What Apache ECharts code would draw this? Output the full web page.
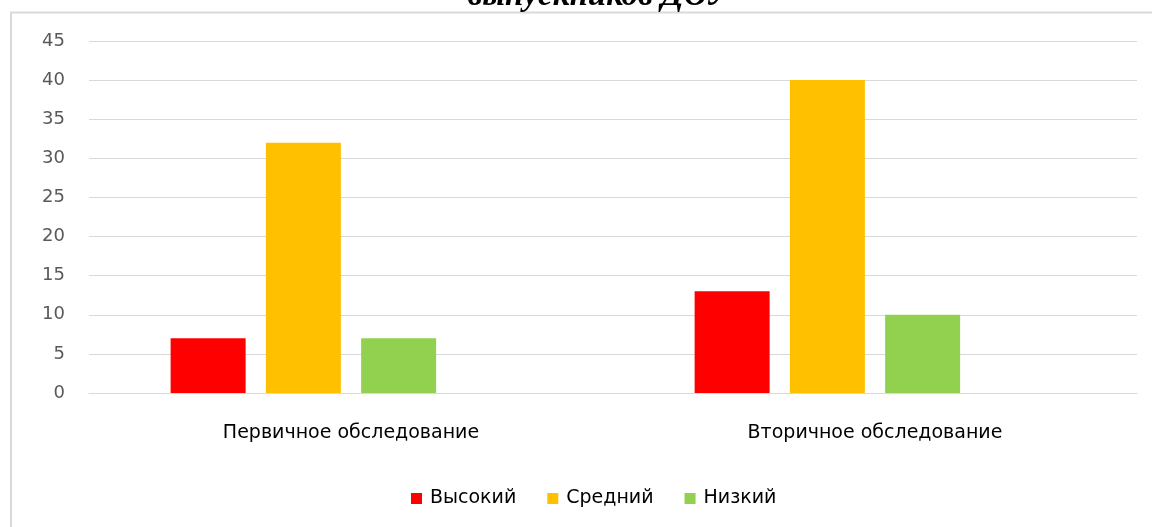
<!DOCTYPE html>
<html>
<head>
<meta charset="utf-8">
<script src="https://cdn.jsdelivr.net/npm/echarts@6/dist/echarts.min.js"></script>
<style>
html,body{margin:0;padding:0;background:#fff;}
#chart{width:1152px;height:527px;}
</style>
</head>
<body>
<div id="chart"></div>
<script>
const titleText = 'выпускников ДОУ';
const categories = ['Первичное обследование', 'Вторичное обследование'];
const seriesNames = ['Высокий', 'Средний', 'Низкий'];
const seriesColors = ['#ff0000', '#ffc000', '#92d050'];
const high = [7, 13];
const medium = [32, 40];
const low = [7, 10];
const yTicks = {min: 0, max: 45, interval: 5};

const values = [high, medium, low];
const series = seriesNames.map((n, i) => ({
  name: n, type: 'bar', data: values[i], barWidth: 75, barGap: '27%',
  itemStyle: {color: seriesColors[i]}
}));
// empty placeholder series (reserves the fourth slot like the original)
series.push({name: '_empty', type: 'bar', data: [null, null], barWidth: 75, barGap: '27%'});

const chart = echarts.init(document.getElementById('chart'));
chart.setOption({
  animation: false,
  graphic: [
    {type: 'rect', shape: {x: 11, y: 12.5, width: 1300, height: 700},
     style: {fill: 'none', stroke: '#d9d9d9', lineWidth: 2}, z: -1},
    {type: 'text', x: 598, y: 13, style: {text: titleText, fill: '#000',
     font: 'italic bold 33px "Liberation Serif"', align: 'center', verticalAlign: 'bottom'}}
  ],
  legend: {
    data: seriesNames, bottom: 14, left: 406, itemWidth: 11, itemHeight: 11, icon: 'rect',
    itemGap: 31,
    textStyle: {color: '#000', fontSize: 19, fontFamily: 'DejaVu Sans', padding: [0, 0, 0, 3]}
  },
  grid: {left: 89, right: 15, top: 41, bottom: 134},
  xAxis: {
    type: 'category', data: categories,
    axisLine: {show: true, lineStyle: {color: '#d9d9d9'}},
    axisTick: {show: false},
    axisLabel: {color: '#000', fontSize: 19, fontFamily: 'DejaVu Sans', margin: 31}
  },
  yAxis: {
    type: 'value', min: yTicks.min, max: yTicks.max, interval: yTicks.interval,
    axisLine: {show: false}, axisTick: {show: false},
    splitLine: {lineStyle: {color: '#d9d9d9', width: 1}},
    axisLabel: {color: '#595959', fontSize: 18, fontFamily: 'DejaVu Sans', margin: 24}
  },
  series: series
});
</script>
</body>
</html>
